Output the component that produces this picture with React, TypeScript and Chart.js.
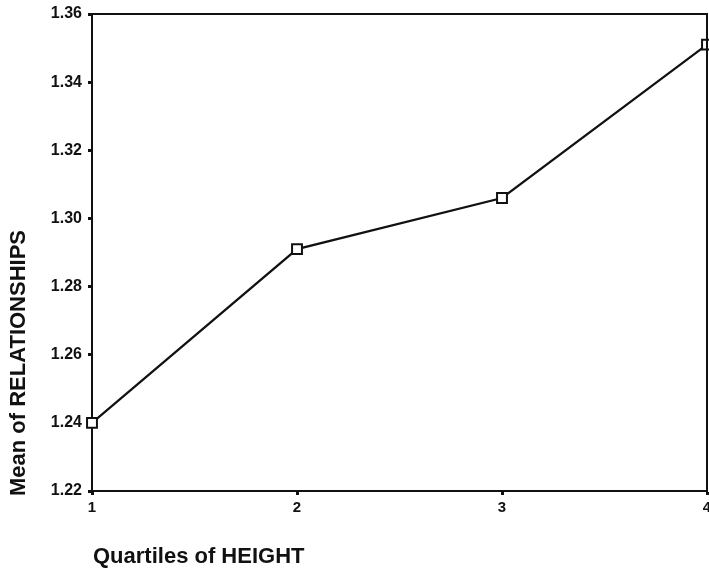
import React, { useEffect, useRef } from "react";
import { Chart, registerables } from "chart.js";

Chart.register(...registerables);

const quartiles = [1, 2, 3, 4];
const means = [1.24, 1.291, 1.306, 1.351];
const yTicks = [1.22, 1.24, 1.26, 1.28, 1.3, 1.32, 1.34, 1.36];
const xTitle = "Quartiles of HEIGHT";
const yTitle = "Mean of RELATIONSHIPS";

const INK = "#111";
const FONT = "'Liberation Sans', Arial, sans-serif";

const framePlugin = {
  id: "frame",
  afterDraw(chart: any) {
    const { ctx, chartArea } = chart;
    const { left, right, top, bottom } = chartArea;
    ctx.save();
    ctx.strokeStyle = INK;
    ctx.lineWidth = 2;
    ctx.beginPath();
    ctx.moveTo(left, top);
    ctx.lineTo(right, top);
    ctx.lineTo(right, bottom);
    ctx.stroke();
    ctx.fillStyle = INK;
    ctx.font = `bold 22px ${FONT}`;
    ctx.textAlign = "left";
    ctx.textBaseline = "middle";
    ctx.fillText(xTitle, 93, 557);
    ctx.translate(19, 363);
    ctx.rotate(-Math.PI / 2);
    ctx.textAlign = "center";
    ctx.font = `bold 22px ${FONT}`;
    ctx.fillText(yTitle, 0, 0);
    ctx.restore();
  },
};

export default function App() {
  const ref = useRef<HTMLCanvasElement | null>(null);
  useEffect(() => {
    if (!ref.current) return;
    const chart = new Chart(ref.current, {
      type: "line",
      data: {
        datasets: [
          {
            data: quartiles.map((q, i) => ({ x: q, y: means[i] })),
            borderColor: INK,
            borderWidth: 2.2,
            pointStyle: "rect",
            pointRadius: 7,
            pointBorderWidth: 2,
            pointBorderColor: INK,
            pointBackgroundColor: "#fff",
            tension: 0,
            clip: false,
          },
        ],
      },
      options: {
        responsive: false,
        animation: false,
        devicePixelRatio: 1,
        layout: { autoPadding: false, padding: { left: 0, top: 14, right: 2, bottom: 0 } },
        plugins: { legend: { display: false }, tooltip: { enabled: false } },
        scales: {
          x: {
            type: "linear",
            min: 1,
            max: 4,
            afterBuildTicks: (s: any) => {
              s.ticks = quartiles.map((v) => ({ value: v }));
            },
            ticks: {
              color: INK,
              font: { family: FONT, size: 15, weight: "bold" },
              padding: 4,
              callback: (v: any) => String(v),
              maxRotation: 0,
            },
            grid: { drawOnChartArea: false, tickLength: 4, tickWidth: 3, color: INK },
            border: { color: INK, width: 2 },
            afterFit: (s: any) => {
              s.height = 81;
              s.paddingLeft = 0;
              s.paddingRight = 0;
            },
          },
          y: {
            type: "linear",
            min: 1.22,
            max: 1.36,
            afterBuildTicks: (s: any) => {
              s.ticks = yTicks.map((v) => ({ value: v }));
            },
            ticks: {
              color: INK,
              font: { family: FONT, size: 16, weight: "bold" },
              padding: 6,
              callback: (v: any) => Number(v).toFixed(2),
            },
            grid: { drawOnChartArea: false, tickLength: 4, tickWidth: 3, color: INK },
            border: { color: INK, width: 2 },
            afterFit: (s: any) => {
              s.width = 92;
              s.paddingTop = 0;
              s.paddingBottom = 0;
            },
          },
        },
      },
      plugins: [framePlugin],
    } as any);
    return () => chart.destroy();
  }, []);
  return (
    <div style={{ position: "fixed", left: 0, top: 0, width: 709, height: 572, background: "#fff" }}>
      <canvas ref={ref} width={709} height={572} />
    </div>
  );
}
